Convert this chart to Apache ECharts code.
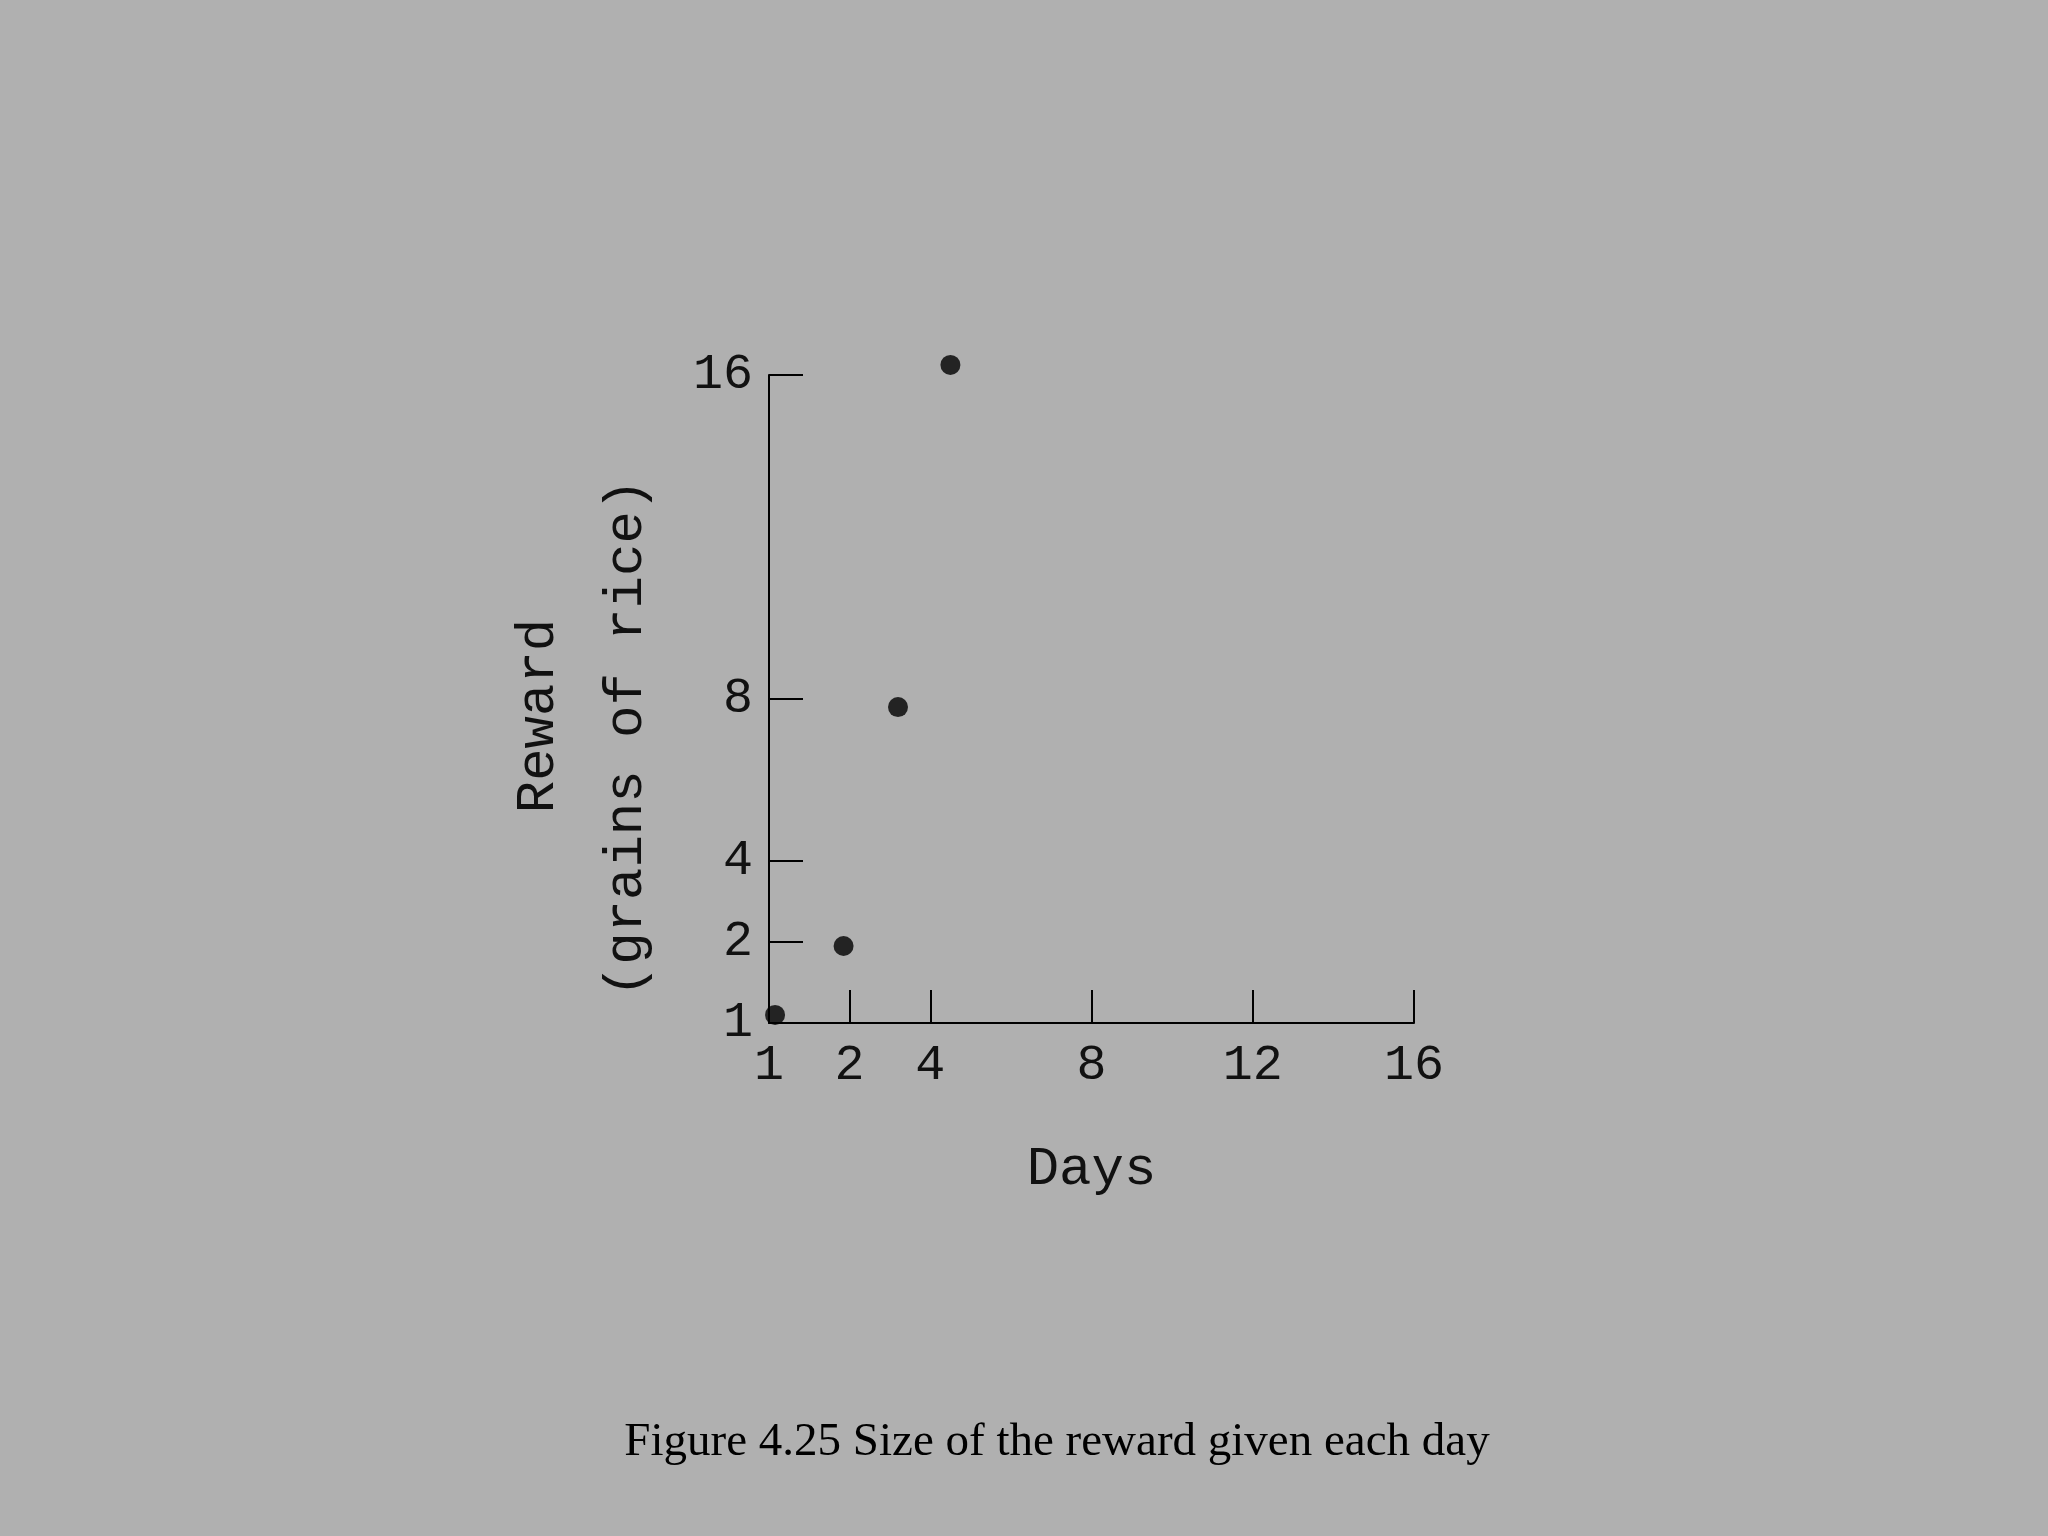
<!DOCTYPE html>
<html lang="en">
<head>
    <meta charset="UTF-8">
    <title>reward</title>
    <script src="https://cdn.jsdelivr.net/npm/echarts@6/dist/echarts.min.js"></script>
</head>
<body style="margin:0;background:#b0b0b0;">
    <div id="main" style="width: 2048px; height: 1536px;"></div>
    <script>
        // axis position -> printed label (the figure labels its origin "1")
        var xTickPos = [2, 4, 8, 12, 16];
        var xLabelPos = [0, 2, 4, 8, 12, 16];
        var xLabelText = ['1', '2', '4', '8', '12', '16'];
        var yTickPos = [2, 4, 8, 16];
        var yLabelPos = [0, 2, 4, 8, 16];
        var yLabelText = ['1', '2', '4', '8', '16'];
        // dot positions
        var dayPos = [0.15, 1.85, 3.2, 4.5];
        var rewardPos = [0.2, 1.9, 7.8, 16.25];

        var points = [];
        for (var i = 0; i < dayPos.length; i++) points.push([dayPos[i], rewardPos[i]]);

        function lookup(pos, text) {
            return function (v) {
                var i = pos.indexOf(v);
                return i >= 0 ? text[i] : '';
            };
        }

        var mono = 'Liberation Mono';
        var myChart = echarts.init(document.getElementById('main'));
        myChart.setOption({
            backgroundColor: '#b0b0b0',
            animation: false,
            grid: { left: 769, top: 375, width: 645, height: 648 },
            xAxis: {
                type: 'value', min: 0, max: 16,
                splitLine: { show: false },
                axisLine: { lineStyle: { color: '#000', width: 2 } },
                axisTick: { show: true, inside: true, length: 33, customValues: xTickPos, lineStyle: { color: '#000', width: 2 } },
                axisLabel: { customValues: xLabelPos, formatter: lookup(xLabelPos, xLabelText), color: '#111', fontFamily: mono, fontSize: 50, margin: 18 },
                name: 'Days', nameLocation: 'middle', nameGap: 120,
                nameTextStyle: { color: '#111', fontFamily: mono, fontSize: 54 }
            },
            yAxis: {
                type: 'value', min: 0, max: 16,
                splitLine: { show: false },
                axisLine: { lineStyle: { color: '#000', width: 2 } },
                axisTick: { show: true, inside: true, length: 34, customValues: yTickPos, lineStyle: { color: '#000', width: 2 } },
                axisLabel: { customValues: yLabelPos, formatter: lookup(yLabelPos, yLabelText), color: '#111', fontFamily: mono, fontSize: 50, margin: 16 }
            },
            graphic: [
                { type: 'text', x: 539, y: 716, rotation: Math.PI / 2,
                  style: { text: 'Reward', font: '54px "Liberation Mono"', fill: '#111', align: 'center', verticalAlign: 'middle' } },
                { type: 'text', x: 627, y: 738, rotation: Math.PI / 2,
                  style: { text: '(grains of rice)', font: '54px "Liberation Mono"', fill: '#111', align: 'center', verticalAlign: 'middle' } },
                { type: 'text', x: 1057, y: 1443,
                  style: { text: 'Figure 4.25 Size of the reward given each day', font: '47px "Liberation Serif"', fill: '#000', align: 'center', verticalAlign: 'middle' } }
            ],
            series: [{
                type: 'scatter',
                data: points,
                symbolSize: 20,
                itemStyle: { color: '#000' },
                clip: false
            }]
        });
    </script>
</body>
</html>
